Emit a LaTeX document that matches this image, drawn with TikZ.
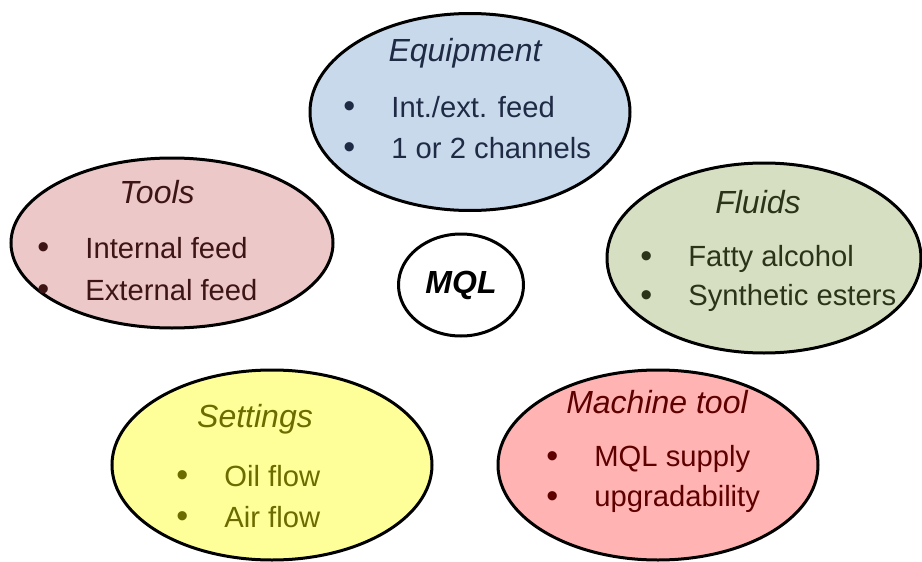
\documentclass[tikz,border=0pt]{standalone}
\usepackage{fontspec}
\setmainfont{Liberation Sans}
\usetikzlibrary{shapes.geometric}

\definecolor{eqfill}{HTML}{C9D9EC}
\definecolor{eqtext}{HTML}{1F2A44}
\definecolor{tlfill}{HTML}{ECC8C8}
\definecolor{tltext}{HTML}{3D1515}
\definecolor{flfill}{HTML}{D7DFC3}
\definecolor{fltext}{HTML}{2B3319}
\definecolor{stfill}{HTML}{FFFF99}
\definecolor{sttext}{HTML}{6B6B00}
\definecolor{mtfill}{HTML}{FFB3B3}
\definecolor{mttext}{HTML}{5E0000}

\newcommand{\bul}[1]{\makebox[24pt][l]{\raisebox{-0.4pt}{\fontsize{17}{17}\selectfont\textbullet}}#1}

\begin{document}
\begin{tikzpicture}[x=0.5pt, y=-0.5pt,
    bubble/.style={ellipse, draw=black, line width=1.5pt, inner sep=0pt},
    title/.style={inner sep=0pt, font=\fontsize{16}{19}\selectfont\itshape},
    item/.style={anchor=west, inner sep=0pt, font=\fontsize{14.6}{17}\selectfont}]
  \useasboundingbox (0,0) rectangle (922,562);

  \node (eq) [bubble, fill=eqfill, minimum width=160pt, minimum height=98.5pt] at (470,112) {};
  \node (tl) [bubble, fill=tlfill, minimum width=161pt, minimum height=85pt] at (172,243) {};
  \node (fl) [bubble, fill=flfill, minimum width=157pt, minimum height=95pt] at (764,258) {};
  \node (st) [bubble, fill=stfill, minimum width=160pt, minimum height=95pt] at (272,465) {};
  \node (mt) [bubble, fill=mtfill, minimum width=160pt, minimum height=95pt] at (658,465) {};
  \node (mql) [bubble, fill=white, minimum width=62.5pt, minimum height=51pt,
    font=\fontsize{16}{19}\selectfont\bfseries\itshape] at (461,285) {MQL};

  % Equipment
  \node (eq-t) [title, text=eqtext] at (465,53) {Equipment};
  \node (eq-1) [item, text=eqtext] at (343,107) {\bul{Int./ext. feed}};
  \node (eq-2) [item, text=eqtext] at (343,148) {\bul{1 or 2 channels}};

  % Tools
  \node (tl-t) [title, text=tltext] at (157,192) {Tools};
  \node (tl-1) [item, text=tltext] at (37,248) {\bul{Internal feed}};
  \node (tl-2) [item, text=tltext] at (37,290) {\bul{External feed}};

  % Fluids
  \node (fl-t) [title, text=fltext] at (758,202) {Fluids};
  \node (fl-1) [item, text=fltext] at (640,259) {\bul{Fatty alcohol}};
  \node (fl-2) [item, text=fltext] at (640,298) {\bul{Synthetic esters}};

  % Settings
  \node (st-t) [title, text=sttext] at (255,419) {Settings};
  \node (st-1) [item, text=sttext] at (176,476) {\bul{Oil flow}};
  \node (st-2) [item, text=sttext] at (176,517) {\bul{Air flow}};

  % Machine tool
  \node (mt-t) [title, text=mttext] at (657,402) {Machine tool};
  \node (mt-1) [item, text=mttext] at (546,459) {\bul{MQL supply}};
  \node (mt-2) [item, text=mttext] at (546,499) {\bul{upgradability}};
\end{tikzpicture}
\end{document}
